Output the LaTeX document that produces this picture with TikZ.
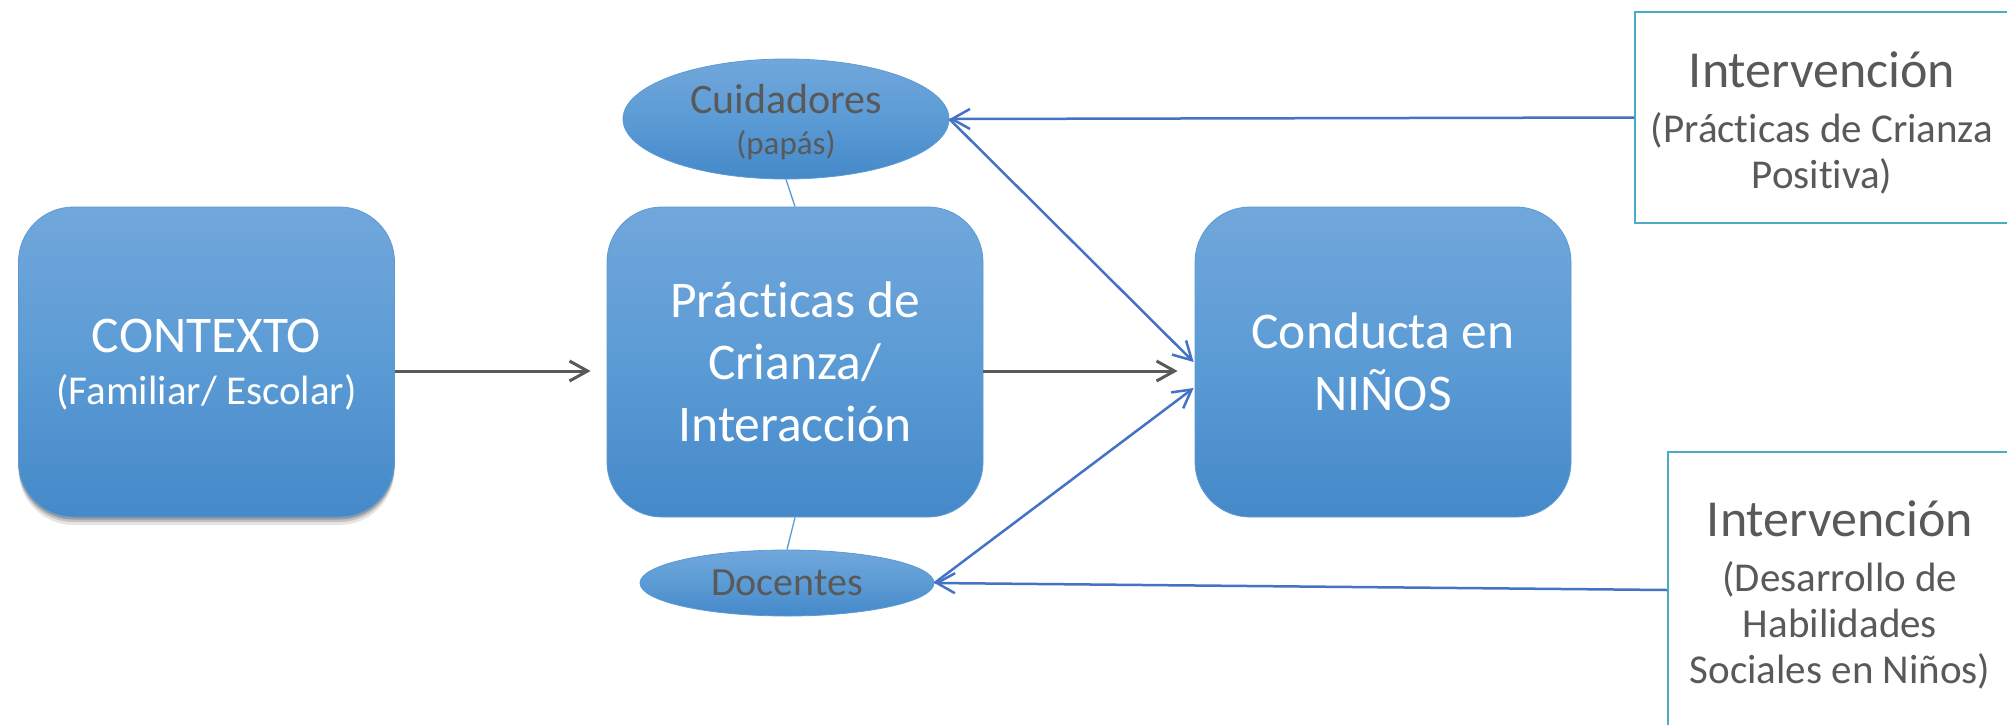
\documentclass[tikz,border=0pt]{standalone}
\usepackage{fontspec}
\setmainfont{Carlito}[Ligatures=NoCommon]
\usetikzlibrary{arrows.meta,shapes.geometric,shadows,calc}
\definecolor{boxtop}{RGB}{113,167,219}
\definecolor{boxmid}{RGB}{91,155,213}
\definecolor{boxbot}{RGB}{69,137,201}
\definecolor{conn}{RGB}{68,114,196}
\definecolor{txtgray}{RGB}{89,89,89}
\definecolor{intbord}{RGB}{75,172,198}
\begin{document}
\begin{tikzpicture}[x=1pt,y=-1pt,
  bigbox/.style={rectangle, rounded corners=55pt, minimum width=376pt, minimum height=310pt,
    inner sep=0pt, top color=boxtop, bottom color=boxbot, middle color=boxmid,
    draw=boxmid, line width=0.8pt, text=white, align=center,
    font=\fontsize{51.5}{62}\selectfont},
  oval/.style={ellipse, inner sep=0pt, top color=boxtop, bottom color=boxbot,
    middle color=boxmid, draw=boxmid, line width=0.8pt, text=txtgray, align=center},
  intbox/.style={rectangle, draw=intbord, line width=1.5pt, inner sep=0pt},
  inttext/.style={text=txtgray, align=center, inner sep=0pt,
    font=\fontsize{41}{46}\selectfont},
  graya/.style={draw=txtgray, line width=3pt, -{Straight Barb[length=18pt,width=20pt]}},
  bluea/.style={draw=conn, line width=2.5pt, -{Straight Barb[length=18pt,width=20pt]}},
  linkline/.style={draw=boxmid, line width=1.3pt}]
\useasboundingbox (0,0) rectangle (2007,724);
\clip (0,0) rectangle (2007,724);
\fill[white] (0,0) rectangle (2007,724);

% main boxes
\node[bigbox, text depth=-8pt,
  drop shadow={shadow xshift=0pt, shadow yshift=-8pt, opacity=.10, fill=black},
  drop shadow={shadow xshift=0pt, shadow yshift=-5pt, opacity=.15, fill=black},
  drop shadow={shadow xshift=0pt, shadow yshift=-2.5pt, opacity=.2, fill=black}]
  (ctx) at (206.5,362) {CONTEXTO\\[-10pt]{\fontsize{41}{49}\selectfont (Familiar/ Escolar)}};
\node[bigbox] (prac) at (795,362) {Prácticas de\\Crianza/\\Interacción};
\node[bigbox, text depth=-6pt] (cond) at (1383,362) {Conducta en\\NIÑOS};

% ellipses
\node[oval, minimum width=326pt, minimum height=120pt, text depth=-1pt,
  font=\fontsize{33}{41}\selectfont] (cuid) at (786,119)
  {{\fontsize{42}{51}\selectfont Cuidadores}\\(papás)};
\node[oval, minimum width=294pt, minimum height=66pt, font=\fontsize{40}{48}\selectfont]
  (doc) at (787,583) {Docentes};

% intervention boxes
\node[intbox, minimum width=374pt, minimum height=211pt] (int1) at (1822,117.5) {};
\node[inttext] (int1t) at ($(int1.center)+(0,5.5)$)
  {{\fontsize{52}{60}\selectfont Intervención}\\[9pt](Prácticas de Crianza\\Positiva)};
\node[intbox, minimum width=344pt, minimum height=276pt] (int2) at (1840,590) {};
\node[inttext] (int2t) at ($(int2.center)+(0,4.5)$)
  {{\fontsize{52}{60}\selectfont Intervención}\\[9pt](Desarrollo de\\Habilidades\\Sociales en Niños)};

% link lines
\draw[linkline] (prac.north) -- (cuid.south);
\draw[linkline] (prac.south) -- (doc.north);

% connectors
\draw[graya, shorten >=16pt] ($(ctx.east)+(0,9)$) -- ($(prac.west)+(0,9)$);
\draw[graya, shorten >=17pt] ($(prac.east)+(0,9)$) -- ($(cond.west)+(0,9)$);
\draw[bluea] (int1.west) -- (cuid.east);
\draw[bluea] (int2.west) -- (doc.east);
\coordinate (cin1) at ($(cond.west)+(-1,0)$);
\coordinate (cin2) at ($(cond.west)+(-1,26)$);
\draw[bluea] (cuid.east) -- (cin1);
\draw[bluea] (doc.east) -- (cin2);
\end{tikzpicture}
\end{document}
